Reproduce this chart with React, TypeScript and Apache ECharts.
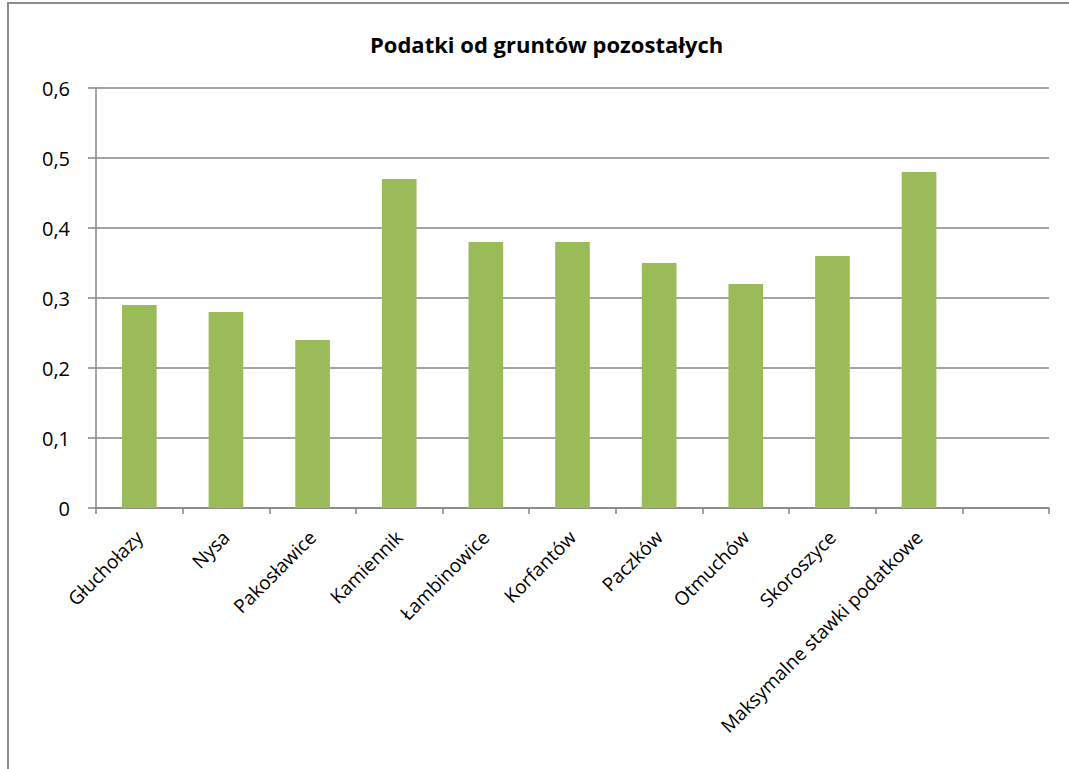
import React, { useEffect, useRef } from "react";
import * as echarts from "echarts";

const categories = [
  "Głuchołazy",
  "Nysa",
  "Pakosławice",
  "Kamiennik",
  "Łambinowice",
  "Korfantów",
  "Paczków",
  "Otmuchów",
  "Skoroszyce",
  "Maksymalne stawki podatkowe",
  "",
];
const values = [0.29, 0.28, 0.24, 0.47, 0.38, 0.38, 0.35, 0.32, 0.36, 0.48, null];
const titleText = "Podatki od gruntów pozostałych";

export default function App() {
  const ref = useRef<HTMLDivElement>(null);
  useEffect(() => {
    if (!ref.current) return;
    const chart = echarts.init(ref.current, null, { renderer: "svg" });
    const font = "'Open Sans', 'Noto Sans', sans-serif";
    chart.setOption({
      animation: false,
      backgroundColor: "#ffffff",
      title: {
        text: titleText,
        left: 365,
        top: 28,
        textStyle: { fontFamily: font, fontSize: 22, fontWeight: "bold", color: "#000" },
      },
      graphic: [
        {
          type: "rect",
          shape: { x: 8, y: 3, width: 1080, height: 790 },
          style: { fill: "none", stroke: "#8c8c8c", lineWidth: 2 },
          silent: true,
        },
      ],
      grid: { left: 96, right: 20, top: 88, bottom: 261, containLabel: false },
      xAxis: {
        type: "category",
        data: categories,
        axisLine: { lineStyle: { color: "#868686", width: 1.5 } },
        axisTick: { show: true, length: 6, alignWithLabel: false, lineStyle: { color: "#868686", width: 1.5 } },
        axisLabel: {
          rotate: 45,
          interval: 0,
          margin: 26,
          fontFamily: font,
          fontSize: 19,
          color: "#000",
        },
      },
      yAxis: {
        type: "value",
        min: 0,
        max: 0.6,
        interval: 0.1,
        axisLine: { show: true, lineStyle: { color: "#868686", width: 1.5 } },
        axisTick: { show: true, length: 8, lineStyle: { color: "#868686", width: 1.5 } },
        splitLine: { show: true, lineStyle: { color: "#868686", width: 1.5 } },
        axisLabel: {
          margin: 26,
          fontFamily: font,
          fontSize: 20,
          color: "#000",
          formatter: (v: number) => (Math.round(v * 10) / 10).toString().replace(".", ","),
        },
      },
      series: [
        {
          type: "bar",
          data: values,
          barCategoryGap: "60%",
          itemStyle: { color: "#9BBB59" },
        },
      ],
    });
    return () => chart.dispose();
  }, []);
  return (
    <div
      ref={ref}
      style={{ position: "absolute", left: 0, top: 0, width: 1069, height: 769 }}
    />
  );
}
